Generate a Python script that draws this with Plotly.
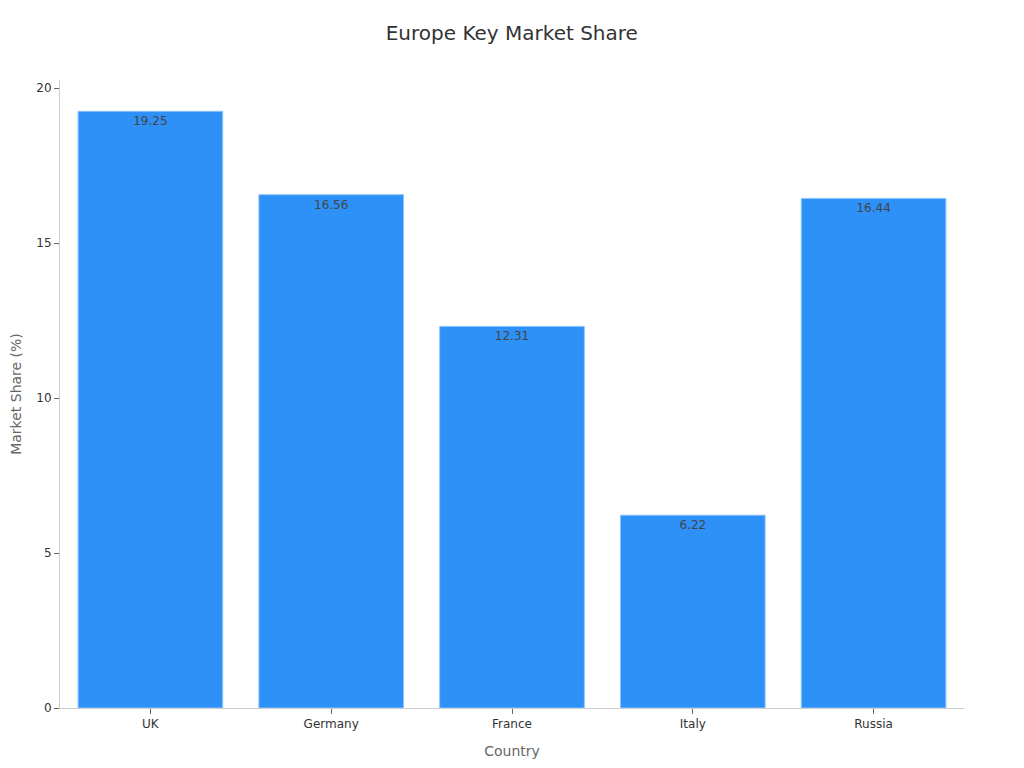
import plotly.graph_objects as go

# data
countries = ["UK", "Germany", "France", "Italy", "Russia"]
market_share = [19.25, 16.56, 12.31, 6.22, 16.44]

fig = go.Figure()
fig.add_trace(go.Bar(
    x=countries,
    y=market_share,
    text=[f"{v:.2f}" for v in market_share],
    textposition="inside",
    insidetextanchor="end",
    textfont=dict(color="#444444", size=12),
    marker=dict(color="#2E91F7", line=dict(color="#8CC4FA", width=1)),
))

# page body adds an 8px offset, so margins are shifted to compensate
fig.update_layout(
    width=1024,
    height=768,
    title=dict(text="Europe Key Market Share", x=0.492, xanchor="center", y=0.977,
               font=dict(size=20, color="#333333")),
    font=dict(family="DejaVu Sans", size=12, color="#333333"),
    paper_bgcolor="white",
    plot_bgcolor="white",
    margin=dict(l=52, r=68, t=72, b=68),
    bargap=0.2,
    showlegend=False,
)
fig.update_xaxes(
    title=dict(text="Country", font=dict(size=14, color="#666666"), standoff=15),
    showline=True, linecolor="#CCCCCC", linewidth=1,
    ticks="outside", ticklen=5, tickcolor="#666666",
    showgrid=False, automargin=False,
)
fig.update_yaxes(
    title=dict(text="Market Share (%)", font=dict(size=14, color="#666666")),
    range=[0, 20.26],
    tickvals=[0, 5, 10, 15, 20],
    showline=True, linecolor="#CCCCCC", linewidth=1,
    ticks="outside", ticklen=5, tickcolor="#666666",
    showgrid=False, zeroline=False, automargin=False,
)

fig.write_html("out.html")
